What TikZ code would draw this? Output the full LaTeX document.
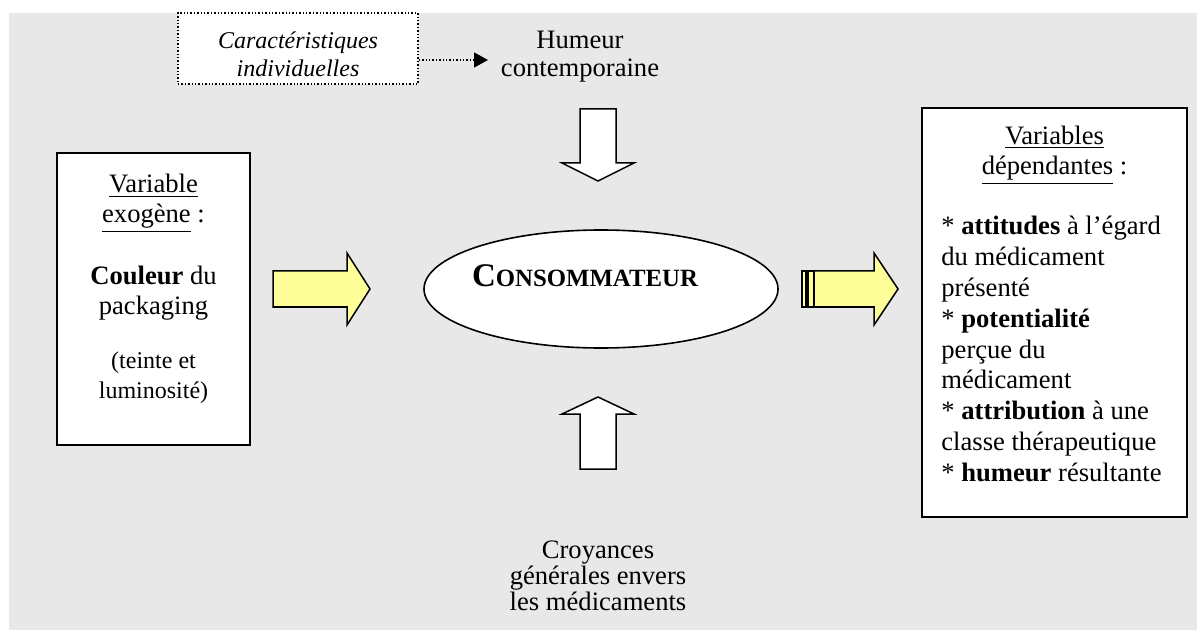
\documentclass[tikz,border=0pt]{standalone}
\usepackage{fontspec}
\setmainfont{Liberation Serif}
\usepackage{tikz}
\usetikzlibrary{arrows.meta, positioning, shapes.geometric, calc}

\definecolor{fondgris}{HTML}{E8E8E8}
\definecolor{jaune}{HTML}{FFFF99}

\begin{document}
\begin{tikzpicture}[x=0.5pt, y=-0.5pt, >=Latex,
    boite/.style={draw, line width=1pt, fill=white, inner sep=0pt},
    texte/.style={inner sep=0pt, align=center, font=\fontsize{13.3}{15}\selectfont},
    fleche/.style={draw, line width=0.75pt, line join=miter}]
    \useasboundingbox (0,0) rectangle (1197,630);
    \fill[fondgris] (9,13) rectangle (1197,630);

    % Nodes
    \node[draw, densely dotted, line width=0.7pt, fill=white, minimum width=120pt, minimum height=35.5pt,
          align=center, font=\itshape\fontsize{12}{14}\selectfont] (carac) at (298,48.5)
        {\rule{0pt}{14.5pt}Caractéristiques\\individuelles};
    \node[texte, font=\fontsize{13.3}{14}\selectfont] (humeur) at (580,57) {Humeur\\contemporaine};
    \node[ellipse, draw, line width=0.8pt, fill=white, minimum width=177pt, minimum height=59pt] (conso) at (601,289) {};
    \node[font=\bfseries, inner sep=0pt] (consotxt) at (585,276)
        {{\fontsize{16.5}{18}\selectfont C}{\fontsize{12.4}{14}\selectfont ONSOMMATEUR}};
    \node[texte, font=\fontsize{13.3}{13}\selectfont] (croy) at (598,576) {Croyances\\générales envers\\les médicaments};

    % Boite gauche
    \node[boite, minimum width=96.5pt, minimum height=146pt] (exo) at (153.5,299) {};
    \node[texte, below=11pt of exo.north] (exotxt)
        {\underline{Variable}\\\underline{exogène} :\\[16pt]\textbf{Couleur} du\\packaging\\[12pt]
         {\fontsize{12}{15}\selectfont (teinte et}\\{\fontsize{12}{15}\selectfont luminosité)}};

    % Boite droite
    \node[boite, minimum width=132.5pt, minimum height=204.5pt] (dep) at (1054.5,312.5) {};
    \node[texte, below=9.3pt of dep.north] (deptitre) {\underline{Variables}\\\underline{dépendantes} :};
    \node[texte, align=left, anchor=north west, font=\fontsize{13.3}{15.4}\selectfont] (deplist)
        at ($(dep.north west)+(20,109)$)
        {* \textbf{attitudes} à l’égard\\du médicament\\présenté\\* \textbf{potentialité}\\perçue du\\médicament\\
         * \textbf{attribution} à une\\classe thérapeutique\\* \textbf{humeur} résultante};

    % Arrows
    \coordinate (bout) at (488,60);
    \draw[densely dotted, line width=0.7pt, -{Triangle[length=7pt, width=7.5pt]}] (carac.east |- bout) -- (bout);

    % fleches blanches (haut et bas)
    \draw[fleche, fill=white] (580,109) -- (616,109) -- (616,163) -- (634,163) -- (598,181)
        -- (562,163) -- (580,163) -- cycle;
    \draw[fleche, fill=white] (598,397) -- (634,414) -- (616,414) -- (616,469) -- (580,469)
        -- (580,414) -- (562,414) -- cycle;

    % fleches jaunes
    \draw[fleche, fill=jaune] (273,271) -- (347,271) -- (347,253) -- (370,289) -- (347,325)
        -- (347,307) -- (273,307) -- cycle;
    \draw[fleche, fill=jaune] (802,271) rectangle (806,307);
    \draw[fleche, fill=jaune] (808,271) rectangle (814,307);
    \draw[fleche, fill=jaune] (814,271) -- (874,271) -- (874,253) -- (898,289) -- (874,325)
        -- (874,307) -- (814,307) -- cycle;

\end{tikzpicture}
\end{document}
